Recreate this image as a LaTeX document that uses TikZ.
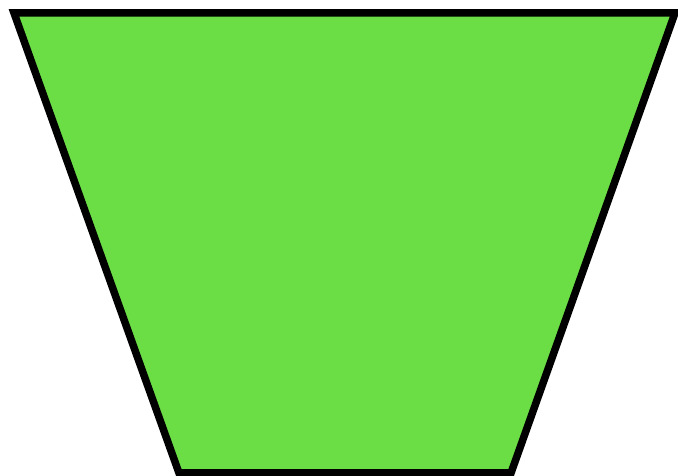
\documentclass[tikz,border=0pt]{standalone}
\definecolor{trapgreen}{HTML}{6BDD45}
\begin{document}
\begin{tikzpicture}[x=1pt,y=1pt,
  trap/.style={fill=trapgreen,draw=black,line width=7.5pt,line join=miter}]
\useasboundingbox (0,0) rectangle (678,476);
\clip (0,0) rectangle (678,476);
\coordinate (tl) at (14,463);
\coordinate (tr) at (675,463);
\coordinate (br) at (511,3);
\coordinate (bl) at (179,3);
\draw[trap] (tl) -- (tr) -- (br) -- (bl) -- cycle;
\end{tikzpicture}
\end{document}
